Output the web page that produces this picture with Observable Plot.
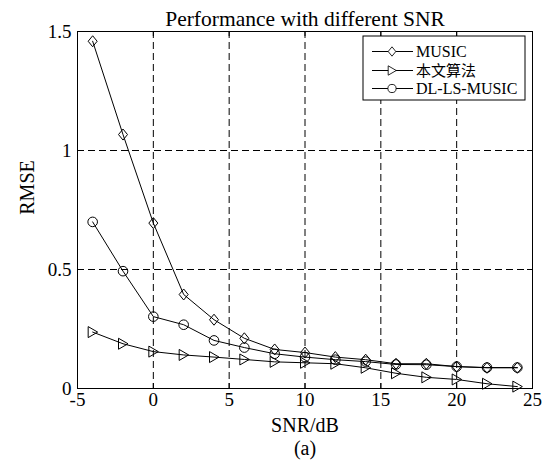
<!DOCTYPE html>
<html><head><meta charset="utf-8">
<script src="https://cdn.jsdelivr.net/npm/d3@7"></script>
<script src="https://cdn.jsdelivr.net/npm/@observablehq/plot@0.6"></script>
<style>
body{margin:0;background:#fff}
#chart svg text{font-family:"Liberation Serif","Times New Roman","DejaVu Serif",serif !important;}
#chart svg text.cjk{font-family:"Noto Sans CJK SC",sans-serif !important;}
</style>
</head><body><div id="chart"></div>
<script>
const snr = [-4,-2,0,2,4,6,8,10,12,14,16,18,20,22,24];
const music = [1.459,1.067,0.695,0.395,0.289,0.211,0.164,0.151,0.132,0.121,0.104,0.104,0.092,0.087,0.087];
const proposed = [0.237,0.188,0.155,0.141,0.132,0.122,0.112,0.108,0.104,0.087,0.064,0.047,0.038,0.020,0.008];
const dlls = [0.700,0.493,0.302,0.268,0.202,0.172,0.146,0.132,0.121,0.113,0.101,0.100,0.092,0.088,0.088];
const seriesNames = ["MUSIC","本文算法","DL-LS-MUSIC"];
const xTicks = [-5,0,5,10,15,20,25];
const yTicks = [0,0.5,1,1.5];
const yTickLabels = ["0","0.5","1","1.5"];
const xGrid = [0,5,10,15,20];
const yGrid = [0.5,1];

const diamond = {draw(ctx, size){ const w=4.5, h=5.5; ctx.moveTo(0,-h); ctx.lineTo(w,0); ctx.lineTo(0,h); ctx.lineTo(-w,0); ctx.closePath(); }};
const triRight = {draw(ctx, size){ ctx.moveTo(-4.5,-5.5); ctx.lineTo(5,0); ctx.lineTo(-4.5,5.5); ctx.closePath(); }};
const circ = {draw(ctx, size){ ctx.moveTo(4.8,0); ctx.arc(0,0,4.8,0,2*Math.PI); }};
const symbolsBy = {"MUSIC": diamond, "本文算法": triRight, "DL-LS-MUSIC": circ};

const rows = [];
[music, proposed, dlls].forEach((arr, i) => arr.forEach((v, j) => rows.push({x: snr[j], y: v, s: seriesNames[i]})));

const W = 542, H = 460, mL = 77, mR = 10, mT = 31, mB = 72;
const font = "Liberation Serif, Times New Roman, DejaVu Serif, serif";

const plot = Plot.plot({
  width: W, height: H,
  marginLeft: mL, marginRight: mR, marginTop: mT, marginBottom: mB,
  style: {fontFamily: font, fontSize: "19px", color: "black", background: "white"},
  x: {domain: [-5, 25], ticks: xTicks},
  y: {domain: [0, 1.5], ticks: yTicks},
  symbol: {type: "identity"},
  marks: [
    Plot.ruleX(xGrid, {stroke: "black", strokeDasharray: "7,4", strokeWidth: 1}),
    Plot.ruleY(yGrid, {stroke: "black", strokeDasharray: "7,4", strokeWidth: 1}),
    Plot.tickX(xTicks, {x: d => d, insetTop: H - mT - mB - 5, stroke: "black"}),
    Plot.tickX(xTicks, {x: d => d, insetBottom: H - mT - mB - 5, stroke: "black"}),
    Plot.tickY(yTicks, {y: d => d, insetRight: W - mL - mR - 5, stroke: "black"}),
    Plot.tickY(yTicks, {y: d => d, insetLeft: W - mL - mR - 5, stroke: "black"}),
    Plot.axisX({ticks: xTicks, tickSize: 0, tickPadding: 4, fontSize: 19, label: null, tickFormat: d => String(d)}),
    Plot.axisY({ticks: yTicks, tickSize: 0, tickPadding: 6, fontSize: 19, label: null, tickFormat: (d, i) => yTickLabels[i]}),
    Plot.line(rows, {x: "x", y: "y", z: "s", stroke: "black", strokeWidth: 1}),
    Plot.dot(rows, {x: "x", y: "y", symbol: d => symbolsBy[d.s], stroke: "black", fill: "none", strokeWidth: 1, r: 5}),
    Plot.frame({stroke: "black", strokeWidth: 1}),
    Plot.text(["Performance with different SNR"], {frameAnchor: "top", lineAnchor: "middle", dy: -12.7, fontSize: 21.5}),
    Plot.text(["SNR/dB"], {frameAnchor: "bottom", lineAnchor: "middle", dy: 36.6, fontSize: 20}),
    Plot.text(["(a)"], {frameAnchor: "bottom", lineAnchor: "middle", dy: 59.6, fontSize: 20}),
    Plot.text(["RMSE"], {frameAnchor: "left", textAnchor: "middle", lineAnchor: "middle", rotate: -90, dx: -50, dy: -22.5, fontSize: 20})
  ]
});

// Legend drawn inside the plot SVG
const svg = d3.select(plot);
const lg = svg.append("g").attr("font-size", "16px").attr("text-anchor", "start");
const lx = 363, ly = 36, lw = 162, lh = 64;
lg.append("rect").attr("x", lx).attr("y", ly).attr("width", lw).attr("height", lh).attr("fill", "white").attr("stroke", "black");
const legendY = [51.5, 70.5, 88.5];
seriesNames.forEach((n, i) => {
  const yy = legendY[i];
  lg.append("line").attr("x1", 372).attr("x2", 413).attr("y1", yy).attr("y2", yy).attr("stroke", "black");
  const p = d3.path(); symbolsBy[n].draw(p, 0);
  lg.append("path").attr("d", p.toString()).attr("transform", `translate(392,${yy}) scale(0.85)`).attr("fill", "white").attr("stroke", "black");
  lg.append("text").attr("x", 416).attr("y", yy).attr("dy", "0.35em").attr("text-anchor", "start").text(n)
    .attr("class", i === 1 ? "cjk" : null).attr("font-size", i === 1 ? "15px" : "16px");
});

document.getElementById("chart").appendChild(plot);
</script>
</body></html>
